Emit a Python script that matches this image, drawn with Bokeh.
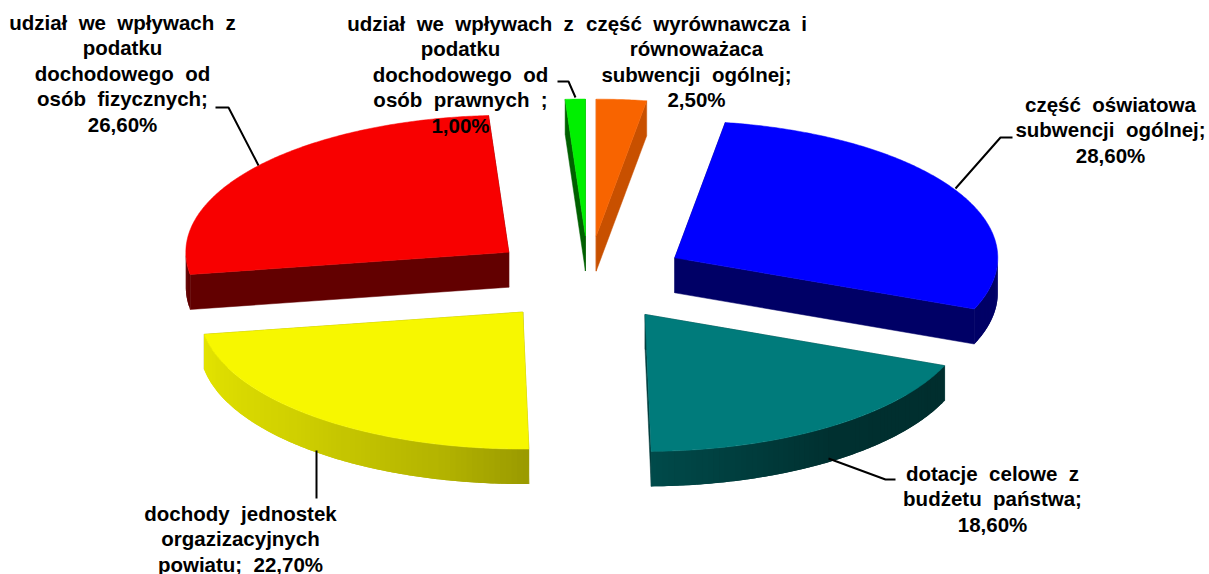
import numpy as np
from bokeh.plotting import figure
from bokeh.models import Range1d
from bokeh.core.properties import value
from bokeh.embed import file_html
from bokeh.resources import INLINE

# ---- data ----
categories = ["część wyrównawcza i równoważąca subwencji ogólnej",
              "część oświatowa subwencji ogólnej",
              "dotacje celowe z budżetu państwa",
              "dochody jednostek orgazizacyjnych powiatu",
              "udział we wpływach z podatku dochodowego od osób fizycznych",
              "udział we wpływach z podatku dochodowego od osób prawnych"]
shares = [2.5, 28.6, 18.6, 22.7, 26.6, 1.0]
pct = [f"{v:.2f}".replace(".", ",") + "%" for v in shares]
GAP = "\u00a0 "
label_lines = [
    [f"część{GAP}wyrównawcza{GAP}i", "równoważaca", f"subwencji{GAP}ogólnej;", pct[0]],
    [f"część{GAP}oświatowa", f"subwencji{GAP}ogólnej;", pct[1]],
    [f"dotacje{GAP}celowe{GAP}z", f"budżetu{GAP}państwa;", pct[2]],
    [f"dochody{GAP}jednostek", "orgazizacyjnych", f"powiatu;{GAP}" + pct[3]],
    [f"udział{GAP}we{GAP}wpływach{GAP}z", "podatku", f"dochodowego{GAP}od", f"osób{GAP}fizycznych;", pct[4]],
    [f"udział{GAP}we{GAP}wpływach{GAP}z", "podatku", f"dochodowego{GAP}od", f"osób{GAP}prawnych{GAP};", pct[5]],
]

# ---- style / layout ----
W, H = 1209, 574
top_colors = ["#f86400", "#0000ff", "#007b7b", "#f7f700", "#f80000", "#00f000"]
side_colors = ["#c85000", "#000066", "#003c3c", "#9a9a00", "#620000", "#006000"]
rim_stops = [
    ([90, 270], ["#c85000", "#c85000"]),
    ([90, 270], ["#000066", "#000066"]),
    ([112, 145, 179], ["#002e2e", "#003030", "#004a4a"]),
    ([179, 195, 225, 261], ["#9a9a00", "#b4b400", "#d0d000", "#e4e400"]),
    ([261, 270], ["#620000", "#620000"]),
    ([90, 270], ["#006000", "#006000"]),
]
CX, CY, RX, RY, EX, EY, DEPTH = 587.0, 278.5, 323.0, 137.0, 98.0, 43.0, 35.0
slice_shift = [1, 2, 2, -2, -2, 1]
label_x = [696, 1110, 992, 240, 122, 460]
label_y = [23, 104, 473, 513, 22, 23]
LINE_H = 25.4
leaders = [None,
           ([955, 1000, 1012], [188, 137, 137]),
           ([828, 885, 895], [458, 479, 479]),
           ([316, 316], [450, 498]),
           ([258, 228, 215], [165, 107, 107]),
           ([575, 568, 557], [97, 81, 81])]


def hex_rgb(h):
    return np.array([int(h[i:i + 2], 16) for i in (1, 3, 5)], dtype=float)


def rim_color(i, a):
    xs, cols = rim_stops[i]
    rgb = np.array([hex_rgb(c) for c in cols])
    c = [np.interp(a, xs, rgb[:, k]) for k in range(3)]
    return "#%02x%02x%02x" % tuple(int(round(v)) for v in c)


p = figure(width=W, height=H, output_backend="svg", toolbar_location=None,
           x_range=Range1d(0, W), y_range=Range1d(H, 0),
           min_border=0, outline_line_color=None)
p.axis.visible = False
p.grid.visible = False

edges = np.concatenate([[0], np.cumsum(shares)]) / sum(shares) * 360.0
face_x, face_y, face_c = [], [], []
rim_x, rim_y, rim_c = [], [], []
top_x, top_y, top_c = [], [], []

for i in range(len(shares)):
    a0, a1 = edges[i], edges[i + 1]
    mid = np.radians((a0 + a1) / 2)
    ax = CX + EX * np.sin(mid) + slice_shift[i]
    ay = CY - EY * np.cos(mid)
    pt = lambda d: (ax + RX * np.sin(np.radians(d)), ay - RY * np.cos(np.radians(d)))
    # radial cut faces
    for d in (a0, a1):
        ex, ey = pt(d)
        face_x.append([ax, ex, ex, ax])
        face_y.append([ay, ey, ey + DEPTH, ay + DEPTH])
        face_c.append(side_colors[i])
    # outer rim, only the part facing the viewer
    r0, r1 = max(a0, 90.0), min(a1, 270.0)
    if r1 > r0:
        n = max(2, int((r1 - r0) * 1.0) + 1)
        steps = np.linspace(r0, r1, n)
        for k in range(n - 1):
            s, t = steps[k], steps[min(k + 2, n - 1)]  # overlap next step: hides seams
            mids = np.linspace(s, t, 4)
            ptsv = [pt(d) for d in mids]
            rim_x.append([q[0] for q in ptsv] + [q[0] for q in ptsv[::-1]])
            rim_y.append([q[1] for q in ptsv] + [q[1] + DEPTH for q in ptsv[::-1]])
            rim_c.append(rim_color(i, (steps[k] + steps[k + 1]) / 2))
    # top face
    ang = np.linspace(a0, a1, max(3, int(a1 - a0) * 2))
    arc = [pt(d) for d in ang]
    top_x.append([ax] + [q[0] for q in arc])
    top_y.append([ay] + [q[1] for q in arc])
    top_c.append(top_colors[i])

p.patches(face_x, face_y, fill_color=face_c, line_color=face_c, line_width=0.5)
p.patches(rim_x, rim_y, fill_color=rim_c, line_color=None)
p.patches(top_x, top_y, fill_color=top_c, line_color=top_c, line_width=0.5)

for ld in leaders:
    if ld:
        p.line(ld[0], ld[1], line_color="#000000", line_width=2)

for i, lines in enumerate(label_lines):
    for j, s in enumerate(lines):
        p.text([label_x[i]], [label_y[i] + j * LINE_H], text=[s],
               text_font=value("Liberation Sans"), text_font_style="bold",
               text_font_size="20.5px", text_color="#000000",
               text_align="center", text_baseline="middle")

open("out.html", "w").write(file_html(p, INLINE))
